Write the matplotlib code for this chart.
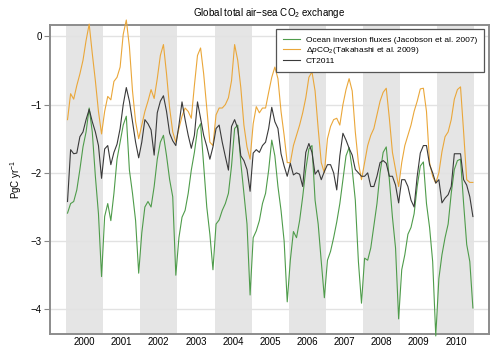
import matplotlib
matplotlib.use("Agg")
import matplotlib.pyplot as plt
import numpy as np

plt.rcParams['font.family'] = ['Liberation Sans', 'DejaVu Sans']
plt.rcParams['mathtext.fontset'] = 'custom'
plt.rcParams['mathtext.rm'] = 'Liberation Sans'
plt.rcParams['mathtext.it'] = 'Liberation Sans:italic'

years = list(range(2000, 2011))
shaded_years = [2000, 2002, 2004, 2006, 2008, 2010]

# monthly values (PgC/yr), Jan..Dec per year
ocean_inversion = [
    -2.59, -2.45, -2.42, -2.25, -1.95, -1.62, -1.40, -1.05, -1.40, -2.05, -2.60, -3.52,  # 2000
    -2.64, -2.45, -2.70, -2.30, -1.80, -1.55, -1.30, -1.17, -1.96, -2.30, -2.70, -3.47,  # 2001
    -2.88, -2.50, -2.42, -2.50, -2.20, -1.80, -1.55, -1.45, -1.75, -2.10, -2.35, -3.50,  # 2002
    -2.95, -2.65, -2.55, -2.30, -1.96, -1.70, -1.37, -1.28, -1.90, -2.50, -2.90, -3.42,  # 2003
    -2.75, -2.69, -2.55, -2.45, -2.30, -1.90, -1.35, -1.30, -1.85, -2.30, -2.75, -3.79,  # 2004
    -2.95, -2.85, -2.70, -2.45, -2.30, -1.96, -1.52, -1.75, -2.20, -2.55, -3.00, -3.89,  # 2005
    -3.28, -2.86, -2.95, -2.70, -2.35, -1.95, -1.65, -1.60, -2.40, -2.75, -3.30, -3.83,  # 2006
    -3.28, -3.15, -2.95, -2.72, -2.45, -2.10, -1.75, -1.63, -1.95, -2.40, -3.30, -3.91,  # 2007
    -3.25, -3.28, -3.10, -2.78, -2.45, -2.00, -1.70, -1.62, -2.10, -2.65, -3.10, -4.14,  # 2008
    -3.42, -3.20, -2.90, -2.80, -2.60, -2.20, -1.90, -1.84, -2.45, -2.80, -3.30, -4.39,  # 2009
    -3.55, -3.20, -2.95, -2.75, -2.30, -1.95, -1.82, -1.80, -2.45, -3.05, -3.30, -3.98,  # 2010
]

delta_pco2 = [
    -1.22, -0.84, -0.92, -0.72, -0.55, -0.35, -0.06, 0.18, -0.25, -0.65, -1.10, -1.43,  # 2000
    -1.10, -0.88, -0.93, -0.66, -0.60, -0.45, 0.03, 0.24, -0.15, -0.80, -1.25, -1.50,   # 2001
    -1.30, -1.10, -0.95, -0.78, -0.91, -0.62, -0.28, -0.12, -0.55, -1.05, -1.40, -1.55,  # 2002
    -1.35, -1.17, -1.05, -1.10, -1.20, -0.72, -0.28, -0.17, -0.55, -1.05, -1.55, -1.60,  # 2003
    -1.15, -1.05, -1.05, -1.00, -0.90, -0.65, -0.12, -0.35, -0.75, -1.30, -1.62, -1.80,  # 2004
    -1.28, -1.03, -1.12, -1.05, -1.05, -0.82, -0.60, -0.45, -0.62, -1.10, -1.45, -1.85,  # 2005
    -1.85, -1.60, -1.45, -1.30, -1.12, -0.90, -0.60, -0.52, -0.80, -1.35, -1.85, -2.00,  # 2006
    -1.50, -1.32, -1.22, -1.20, -1.30, -1.00, -0.78, -0.62, -0.80, -1.40, -1.85, -2.10,  # 2007
    -1.85, -1.60, -1.45, -1.35, -1.15, -0.95, -0.82, -0.76, -1.20, -1.70, -1.95, -2.20,  # 2008
    -1.85, -1.60, -1.45, -1.30, -1.10, -0.95, -0.77, -0.76, -1.10, -1.85, -2.05, -2.15,  # 2009
    -2.00, -1.69, -1.47, -1.40, -1.22, -0.92, -0.78, -0.74, -1.40, -2.10, -2.14, -2.14,  # 2010
]

ct2011 = [
    -2.42, -1.66, -1.72, -1.71, -1.47, -1.40, -1.22, -1.07, -1.25, -1.40, -1.60, -2.08,  # 2000
    -1.65, -1.60, -1.88, -1.70, -1.58, -1.35, -1.00, -0.75, -0.95, -1.25, -1.55, -1.78,  # 2001
    -1.55, -1.22, -1.28, -1.37, -1.74, -1.12, -0.95, -0.87, -1.10, -1.42, -1.53, -1.60,  # 2002
    -1.30, -0.96, -1.22, -1.45, -1.64, -1.45, -0.96, -1.20, -1.45, -1.61, -1.80, -1.62,  # 2003
    -1.35, -1.30, -1.55, -1.76, -1.96, -1.32, -1.22, -1.35, -1.75, -1.82, -1.95, -2.27,  # 2004
    -1.71, -1.66, -1.70, -1.60, -1.55, -1.35, -1.04, -1.25, -1.35, -1.72, -1.90, -2.05,  # 2005
    -1.86, -2.03, -2.00, -2.02, -2.20, -1.70, -1.57, -1.70, -2.02, -1.96, -2.10, -1.98,  # 2006
    -1.88, -1.88, -2.00, -2.25, -1.75, -1.42, -1.52, -1.64, -1.74, -1.95, -2.00, -2.05,  # 2007
    -2.05, -2.00, -2.20, -2.20, -2.05, -1.85, -1.82, -1.86, -2.05, -2.05, -2.18, -2.44,  # 2008
    -2.10, -2.10, -2.20, -2.40, -2.50, -2.05, -1.71, -1.60, -1.60, -1.88, -2.00, -2.15,  # 2009
    -2.10, -2.44, -2.37, -2.32, -2.20, -1.72, -1.72, -1.72, -2.10, -2.18, -2.35, -2.64,  # 2010
]

labels = ["Ocean inversion fluxes (Jacobson et al. 2007)",
          r"$\Delta\mathit{p}$CO$_2$(Takahashi et al. 2009)",
          "CT2011"]
colors = ["#4f9c4b", "#eaa73a", "#3a3a3a"]
yticks = [0, -1, -2, -3, -4]

n = len(ct2011)
t = np.array(years[0] + (np.arange(n) + 0.5) / 12.0)

fig = plt.figure(figsize=(5, 3.5), dpi=100)
ax = fig.add_axes([0.100, 0.045, 0.8786, 0.885])

for y in shaded_years:
    ax.axvspan(y, y + 1, color="#e5e5e5", lw=0, zorder=0)
for yv in yticks:
    ax.axhline(yv, color="#e2e2e2", lw=1.0, zorder=1)

for series, c, lab in zip([ocean_inversion, delta_pco2, ct2011], colors, labels):
    ax.plot(t, series, color=c, lw=0.8, label=lab, zorder=3, clip_on=False)

ax.set_xlim(1999.57, 2011.40)
ax.set_ylim(-4.365, 0.174)

ax.set_yticks(yticks)
ax.set_yticklabels(["0", "\u22121", "\u22122", "\u22123", "\u22124"], fontsize=7)
ax.set_xticks([y + 0.5 for y in years])
ax.set_xticklabels([str(y) for y in years], fontsize=7)
ax.tick_params(axis="x", length=0, pad=2)
ax.tick_params(axis="y", length=4, width=0.8, color="#888888", pad=2)

for s in ax.spines.values():
    s.set_color("#8c8c8c")
    s.set_linewidth(1.4)

ax.set_title(r"Global total air$-$sea CO$_2$ exchange", fontsize=7.0, pad=6)
ax.set_ylabel(r"PgC yr$^{-1}$", fontsize=7, labelpad=5)

leg = ax.legend(loc="upper right", bbox_to_anchor=(0.988, 0.9855), borderaxespad=0,
                fontsize=6.0, frameon=True, fancybox=False, framealpha=1,
                edgecolor="#555555", handlelength=2.0, handletextpad=0.7,
                borderpad=0.85, labelspacing=0.12)
leg.get_frame().set_linewidth(0.9)

fig.savefig("out.png", dpi=100)
